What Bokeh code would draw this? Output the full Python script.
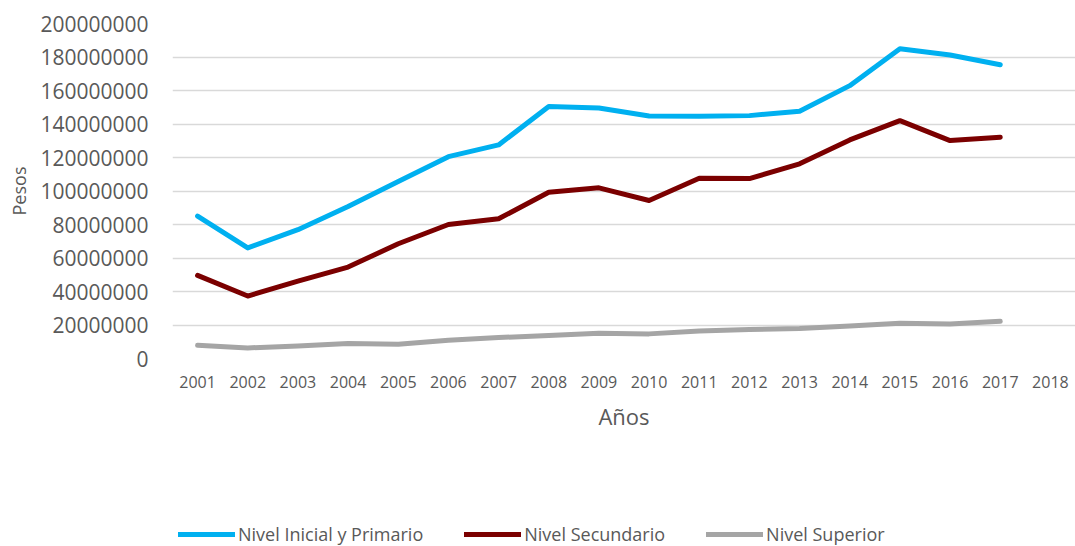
import numpy as np
from bokeh.plotting import figure
from bokeh.layouts import column
from bokeh.models import (Legend, LegendItem, SingleIntervalTicker,
                          BasicTickFormatter, Range1d, FactorRange)
from bokeh.embed import file_html
from bokeh.resources import INLINE

# Tick labels / categories
years = ["2001", "2002", "2003", "2004", "2005", "2006", "2007", "2008", "2009",
         "2010", "2011", "2012", "2013", "2014", "2015", "2016", "2017", "2018"]
data_years = years[:17]

# Series values (Pesos)
nivel_inicial_primario = [85000000, 66000000, 76900000, 90800000, 105700000,
                          120500000, 127500000, 150400000, 149600000, 144800000,
                          144600000, 145000000, 147600000, 162900000, 184900000,
                          181200000, 175400000]
nivel_secundario = [49600000, 37300000, 46200000, 54600000, 68500000,
                    80000000, 83400000, 99300000, 101900000, 94300000,
                    107600000, 107400000, 116200000, 130500000, 142000000,
                    130100000, 132100000]
nivel_superior = [7900000, 6300000, 7500000, 8900000, 8500000,
                  10900000, 12500000, 13700000, 15100000, 14700000,
                  16400000, 17300000, 17900000, 19400000, 21000000,
                  20600000, 22200000]

series_names = ["Nivel Inicial y Primario", "Nivel Secundario", "Nivel Superior"]
series_colors = ["#00B0F0", "#7B0000", "#A5A5A5"]

FONT = "Open Sans"
TXT = "#595959"

p = figure(width=1075, height=450,
           x_range=FactorRange(*years, range_padding=0),
           y_range=Range1d(0, 200000000),
           output_backend="svg", toolbar_location=None,
           min_border_left=172, min_border_top=23,
           min_border_right=0, min_border_bottom=92)
p.outline_line_color = None
p.background_fill_color = "white"
p.border_fill_color = "white"

for vals, color in zip([nivel_inicial_primario, nivel_secundario, nivel_superior],
                       series_colors):
    p.line(data_years, vals, line_color=color, line_width=5,
           line_cap="round", line_join="round")

# Y axis
p.yaxis.ticker = SingleIntervalTicker(interval=20000000)
p.yaxis.formatter = BasicTickFormatter(use_scientific=False)
p.yaxis.major_label_text_font = FONT
p.yaxis.major_label_text_font_size = "21px"
p.yaxis.major_label_text_color = TXT
p.yaxis.major_label_standoff = 18
p.yaxis.axis_label = "Pesos"
p.yaxis.axis_label_text_font = FONT
p.yaxis.axis_label_text_font_size = "18px"
p.yaxis.axis_label_text_font_style = "normal"
p.yaxis.axis_label_text_color = TXT
p.yaxis.axis_label_standoff = 6

# X axis
p.xaxis.major_label_text_font = FONT
p.xaxis.major_label_text_font_size = "16px"
p.xaxis.major_label_text_color = TXT
p.xaxis.major_label_standoff = 11
p.xaxis.axis_label = "Años"
p.xaxis.axis_label_text_font = FONT
p.xaxis.axis_label_text_font_size = "22px"
p.xaxis.axis_label_text_font_style = "normal"
p.xaxis.axis_label_text_color = TXT
p.xaxis.axis_label_standoff = 10

for ax in [p.xaxis, p.yaxis]:
    ax.axis_line_color = None
    ax.major_tick_line_color = None
    ax.minor_tick_line_color = None

p.xgrid.grid_line_color = None
p.ygrid.grid_line_color = "#D9D9D9"
p.ygrid.grid_line_width = 1.5

# Legend strip below the chart (legend-only helper lines, never visible)
p2 = figure(width=1075, height=96, x_range=Range1d(0, 1), y_range=Range1d(0, 1),
            output_backend="svg", toolbar_location=None,
            x_axis_location=None, y_axis_location=None,
            min_border_left=0, min_border_right=0, min_border_top=0,
            min_border_bottom=0)
p2.outline_line_color = None
p2.xgrid.grid_line_color = None
p2.ygrid.grid_line_color = None
p2.border_fill_color = "white"

legend_renderers = [p2.line(np.array([np.nan]), np.array([np.nan]),
                            line_color=c, line_width=5, line_cap="round")
                    for c in series_colors]

legend = Legend(
    items=[LegendItem(label=n, renderers=[r])
           for n, r in zip(series_names, legend_renderers)],
    orientation="horizontal", location=(6, 0),
    border_line_color=None, background_fill_alpha=0,
    padding=0, margin=0, spacing=41,
    glyph_width=57, glyph_height=18, label_standoff=3,
    label_text_font=FONT, label_text_font_size="18px", label_text_color=TXT,
)
p2.add_layout(legend)

layout = column(p, p2, spacing=0)
open("out.html", "w").write(file_html(layout, INLINE))
